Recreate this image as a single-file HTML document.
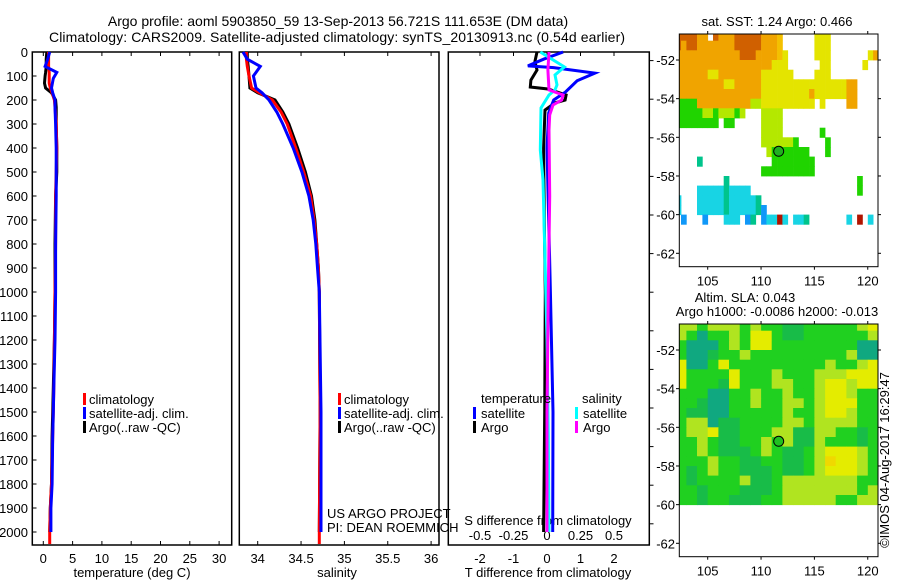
<!DOCTYPE html>
<html><head><meta charset="utf-8"><style>
html,body{margin:0;padding:0;background:#fff;}
svg{display:block;font-family:"Liberation Sans",sans-serif;}
</style></head><body>
<svg id="fig" width="900" height="580" viewBox="0 0 900 580" xmlns="http://www.w3.org/2000/svg">
<defs>
<clipPath id="clipM1"><rect x="679.3" y="34" width="198.4" height="232.7"/></clipPath>
<clipPath id="clipM2"><rect x="679.3" y="324" width="199" height="232.7"/></clipPath>
</defs>
<text x="338" y="26" font-size="14" text-anchor="middle">Argo profile: aoml 5903850_59 13-Sep-2013 56.721S 111.653E (DM data)</text>
<text x="337" y="42" font-size="14" text-anchor="middle" textLength="576">Climatology: CARS2009. Satellite-adjusted climatology: synTS_20130913.nc (0.54d earlier)</text>
<g id="p1"></g>
<g id="p2"></g>
<g id="p3"></g>
<g id="m1"></g>
<g id="m2"></g>
<text transform="translate(889,460) rotate(-90)" font-size="13" text-anchor="middle">©IMOS 04-Aug-2017 16:29:47</text>
</svg>
<script>
// ---- panel 1: temperature ----
const tDepthArgo = [0,30,60,85,100,130,150,170,200,230,300,400,500,600,800,1000,1200,1400,1500,1600,1800,1900,2000];
const tArgo = [0.6,0.5,0.5,0.4,0.3,0.2,0.4,1.4,2.1,2.2,2.2,2.3,2.3,2.1,2.0,2.0,1.9,1.7,1.6,1.5,1.4,1.2,1.1];
const tDepthClim = [0,30,60,85,100,130,150,170,200,230,300,400,500,600,800,1000,1200,1400,1500,1600,1800,1900,2000,2050];
const tClim = [0.9,0.9,0.9,1.0,1.0,1.0,1.2,1.5,1.9,2.0,2.2,2.3,2.2,2.1,2.1,2.0,1.9,1.8,1.7,1.6,1.4,1.2,1.1,1.1];
const tDepthSat = [0,30,60,85,110,150,170,200,230,300,400,500,600,800,1000,1200,1400,1500,1600,1800,1900,2000];
const tSat = [1.1,0.75,0.3,2.3,1.7,1.4,1.6,2.0,2.0,2.1,2.2,2.2,2.2,2.1,2.1,2.0,1.8,1.7,1.6,1.5,1.3,1.3];
const tTicks = [0,5,10,15,20,25,30];
const depthTicks = [0,100,200,300,400,500,600,700,800,900,1000,1100,1200,1300,1400,1500,1600,1700,1800,1900,2000];
// ---- panel 2: salinity ----
const sDepth = [0,30,60,100,150,170,200,250,300,400,500,600,700,800,900,1000,1500,2000];
const sArgo = [33.88,33.88,33.89,33.90,33.91,34.0,34.2,34.29,34.36,34.46,34.55,34.62,34.66,34.68,34.70,34.71,34.72,34.71];
const sDepthClim = [0,30,60,100,150,170,200,250,300,400,500,600,700,800,900,1000,1500,2000,2050];
const sClim = [33.87,33.87,33.88,33.90,33.93,34.02,34.17,34.27,34.34,34.44,34.53,34.61,34.65,34.68,34.70,34.71,34.72,34.71,34.71];
const sSat = [33.83,33.88,34.03,33.95,33.98,34.05,34.13,34.22,34.29,34.41,34.51,34.59,34.64,34.67,34.69,34.71,34.73,34.73];
const sTicks = [34,34.5,35,35.5,36];
const sTickLabels = ["34","34.5","35","35.5","36"];
// ---- panel 3: differences ----
const dTSatDepth = [0,30,58,65,88,120,167,200,254,400,700,1000,1500,2000];
const dTSat = [0.48,-0.1,-0.57,0.2,1.43,0.9,0.55,0.2,0.05,0.0,0.05,0.1,0.18,0.17];
const dTArgoDepth = [0,40,75,117,146,154,179,200,212,242,400,700,1000,1500,2000];
const dTArgo = [-0.3,-0.36,-0.3,-0.48,-0.5,0.03,0.57,0.54,0.24,-0.06,-0.1,-0.08,-0.05,-0.07,-0.1];
const dSSatDepth = [0,33,62,96,137,158,179,233,408,533,867,1200,1600,2000];
const dSSat = [-0.05,0.045,0.13,0.06,0.075,0.06,0.015,-0.045,-0.05,-0.03,-0.015,0.0,0.01,0.015];
const dSArgoDepth = [0,75,158,179,200,221,262,325,600,1000,1500,2000];
const dSArgo = [0.015,0.007,0.015,0.12,0.11,0.045,0.02,0.015,0.02,0.01,0.0,0.0];
const dTTicks = [-2,-1,0,1,2];
const dSTicks = [-0.5,-0.25,0,0.25,0.5];
// ---- maps ----
const lonTicks = [105,110,115,120];
const latTicks = [-52,-54,-56,-58,-60,-62];
const sstLon0 = 102, sstDLon = 0.5, sstLat0 = -50.5, sstDLat = 0.5;
const sstGrid = [
"DDDDOO.DOOODDDDDOOOo......YYY.........",
"DODDOOOOOOODDDDDOOOo......YYY.........",
"OOOOOOOOOOOODDDOOOOoY.....YYY.......YO",
"OOOOOOOOOOOOOOOOOOYYY......YY......Y..",
"OOOOOOYYOOOOOOOOYYYYYY....YYY.........",
"OOOOOOOOOYYOOOOOYYYYYYYYYYYYYYYYOO....",
"OOOOOOOOOOOOOOOOYYYYYYYYYOYYYYYYOO....",
"GGGGOOOOOOOOOOLLYYYYYYYYYY.Y....OO....",
"GGGGGLLGLLLGL...LLLL..................",
"GGGGGGGG.GG.....LLLL..................",
"................LLLL.......G..........",
"................LLLLLLG.....G.........",
".................LGGGGGGG...G.........",
"....T.............GGGGGGGG............",
"................GGGGGGGGGG............",
".........T........................G...",
"....CCCCCTCCCC....................G...",
"C...CCCCCTCCCCCT......................",
"C...CCCCCTCCCCCTB.....................",
".B...B...CCC.BT.BCCRC.CCT.......C.R.C."];
const slaLon0 = 102, slaDLon = 1, slaLat0 = -50.5, slaDLat = 0.5;
const slaGrid = [
"llglllglggGGgggggly","lgtgglgyygGGggggggl","gtttglgyyggggggggtt","gttGgglgggggggggltt",
"yttgyggggggggglggly","yggggyggglggglllyyy","ygggGygggllgglyylyy","gggttgglgglgglyylgg",
"ggGttgglggllglyyygg","gGGttggggglgglyylgg","glltGGggggllgllllgg","gllyGGgggllGGllggGg",
"gglgGGgglglGGlgggGg","gglgGGGglgGGglyyylg","ggglggGGggGGgloyylg","gGglggGGGgGGglyyylg",
"gGgggglGGglllllllgg","ggGgggGGGglllllllgl","ggGggGGGgglllllggll"];
const argoLon = 111.653, argoLat = -56.721;

const NS="http://www.w3.org/2000/svg";
function mk(parent, tag, attrs, name, text){
  const e=document.createElementNS(NS,tag);
  for(const k in attrs) e.setAttribute(k,attrs[k]);
  
  
  if(text!==undefined) e.textContent=text;
  parent.appendChild(e); return e;
}
const yD = d => 52 + 0.24*d;
const xT = t => 43.3 + 5.86*t;
const xS = s => 257.7 + 86.7*(s-34);
const xDT = v => 547 + 33.5*v;
const xDS = v => 547 + 134*v;
function line(g, xs, ds, fx, color, name){
  const pts = xs.map((v,i)=>fx(v).toFixed(1)+","+yD(ds[i]).toFixed(1)).join(" ");
  mk(g,'polyline',{points:pts,fill:'none',stroke:color,'stroke-width':3,'stroke-linejoin':'miter'},name);
}
function frame(g,x0,x1,name){
  mk(g,'rect',{x:x0,y:52,width:x1-x0,height:493,fill:'none',stroke:'#000','stroke-width':1.5},name);
}
// panel 1
const p1=document.getElementById('p1');
frame(p1,32.3,231.7,'temperature-frame');
depthTicks.forEach(d=>{
  mk(p1,'line',{x1:32.3,x2:36.5,y1:yD(d),y2:yD(d),stroke:'#000'},'depth-tick');
  mk(p1,'text',{x:28,y:yD(d)+5,'font-size':13,'text-anchor':'end'},'depth-tick-label',String(d));
});
tTicks.forEach(t=>{
  mk(p1,'line',{x1:xT(t),x2:xT(t),y1:545,y2:541,stroke:'#000'},'temperature-tick');
  mk(p1,'line',{x1:xT(t),x2:xT(t),y1:52,y2:56,stroke:'#000'},'temperature-top-tick');
  mk(p1,'text',{x:xT(t),y:563,'font-size':13,'text-anchor':'middle'},'temperature-tick-label',String(t));
});
mk(p1,'text',{x:132,y:577,'font-size':13,'text-anchor':'middle'},'x-axis-title-temperature','temperature (deg C)');
line(p1,tArgo,tDepthArgo,xT,'#000','argo-temperature-line');
line(p1,tClim,tDepthClim,xT,'#f00','climatology-temperature-line');
line(p1,tSat,tDepthSat,xT,'#00f','satellite-temperature-line');
function legend(g,x,items){
  items.forEach((it,i)=>{
    const y=399+14*i;
    mk(g,'rect',{x:x,y:y-6,width:3,height:12,fill:it[1]},'legend-swatch');
    mk(g,'text',{x:x+6,y:y+5,'font-size':13},'legend-entry',it[0]);
  });
}
legend(p1,83,[["climatology","#f00"],["satellite-adj. clim.","#00f"],["Argo(..raw -QC)","#000"]]);
// panel 2
const p2=document.getElementById('p2');
frame(p2,239.3,439,'salinity-frame');
sTicks.forEach((s,i)=>{
  mk(p2,'line',{x1:xS(s),x2:xS(s),y1:545,y2:541,stroke:'#000'},'salinity-tick');
  mk(p2,'line',{x1:xS(s),x2:xS(s),y1:52,y2:56,stroke:'#000'},'salinity-top-tick');
  mk(p2,'text',{x:xS(s),y:563,'font-size':13,'text-anchor':'middle'},'salinity-tick-label',sTickLabels[i]);
});
mk(p2,'text',{x:337,y:577,'font-size':13,'text-anchor':'middle'},'x-axis-title-salinity','salinity');
line(p2,sArgo,sDepth,xS,'#000','argo-salinity-line');
line(p2,sClim,sDepthClim,xS,'#f00','climatology-salinity-line');
line(p2,sSat,sDepth,xS,'#00f','satellite-salinity-line');
legend(p2,338,[["climatology","#f00"],["satellite-adj. clim.","#00f"],["Argo(..raw -QC)","#000"]]);
mk(p2,'text',{x:327,y:518,'font-size':13},'project-label','US ARGO PROJECT');
mk(p2,'text',{x:327,y:532,'font-size':13},'pi-label','PI: DEAN ROEMMICH');
// panel 3
const p3=document.getElementById('p3');
frame(p3,448.3,649.3,'difference-frame');
dTTicks.forEach(t=>{
  mk(p3,'line',{x1:xDT(t),x2:xDT(t),y1:52,y2:56,stroke:'#000'},'t-diff-top-tick');
  mk(p3,'text',{x:xDT(t),y:563,'font-size':13,'text-anchor':'middle'},'t-diff-tick-label',String(t));
});
dSTicks.forEach(s=>{
  mk(p3,'text',{x:xDS(s),y:540,'font-size':13,'text-anchor':'middle'},'s-diff-tick-label',String(s));
});
for(let i=0;i<13;i++){
  const y=60.6+38.6*i;
  mk(p3,'line',{x1:649.3,x2:653.5,y1:y,y2:y,stroke:'#000'},'right-tick');
}
mk(p3,'text',{x:548,y:525,'font-size':13,'text-anchor':'middle'},'s-diff-axis-title','S difference from climatology');
mk(p3,'text',{x:548,y:577,'font-size':13,'text-anchor':'middle'},'t-diff-axis-title','T difference from climatology');
line(p3,dTArgo,dTArgoDepth,xDT,'#000','argo-t-diff-line');
line(p3,dTSat,dTSatDepth,xDT,'#00f','satellite-t-diff-line');
line(p3,dSSat,dSSatDepth,xDS,'#0ff','satellite-s-diff-line');
line(p3,dSArgo,dSArgoDepth,xDS,'#f0f','argo-s-diff-line');
mk(p3,'text',{x:481,y:403,'font-size':13},'legend-title-temperature','temperature');
mk(p3,'text',{x:582,y:403,'font-size':13},'legend-title-salinity','salinity');
[["satellite","#00f",473,413],["Argo","#000",473,427],["satellite","#0ff",575,413],["Argo","#f0f",575,427]].forEach(it=>{
  mk(p3,'rect',{x:it[2],y:it[3]-6,width:3,height:12,fill:it[1]},'legend-swatch');
  mk(p3,'text',{x:it[2]+8,y:it[3]+5,'font-size':13},'legend-entry',it[0]);
});
// maps
const lonX = l => 707.7 + 10.67*(l-105);
const lat1 = a => 60 + 19.33*(-52-a);
const lat2 = a => 350 + 19.33*(-52-a);
const sstColors={D:'#d06000',O:'#f0a400',o:'#f4c000',Y:'#e4e400',L:'#b4e800',G:'#20d400',T:'#00c48c',C:'#18d4e4',B:'#1098f8',R:'#b01400'};
const slaColors={g:'#20d020',G:'#18bc48',t:'#10a880',l:'#b0e420',y:'#e4ec00',o:'#f0d800'};
function drawMap(id,clip,grid,colors,lon0,dlon,lat0,dlat,latY,top,bottom,title1,title2){
  const g=document.getElementById(id);
  const cg=mk(g,'g',{'clip-path':'url(#'+clip+')'},'map-cells');
  if(id==='m2') mk(cg,'rect',{x:679.3,y:top,width:199,height:latY(-60)-top,fill:'#20d020'},'map-background');
  grid.forEach((row,i)=>{
    for(let j=0;j<row.length;j++){
      const c=row[j]; if(!colors[c]) continue;
      const x0=lonX(lon0+dlon*j), x1=lonX(lon0+dlon*(j+1));
      const y0=latY(lat0-dlat*i), y1=latY(lat0-dlat*(i+1));
      mk(cg,'rect',{x:x0.toFixed(1),y:y0.toFixed(1),width:(x1-x0+0.4).toFixed(1),height:(y1-y0+0.4).toFixed(1),fill:colors[c]},'heatmap-cell');
    }
  });
  mk(g,'rect',{x:679.3,y:top,width:198.7,height:bottom-top,fill:'none',stroke:'#000','stroke-width':1},'map-frame');
  mk(g,'circle',{cx:lonX(argoLon),cy:latY(argoLat),r:5,fill:id==='m1'?'#20b020':'#20c020',stroke:'#000','stroke-width':1},'argo-location-marker');
  lonTicks.forEach(l=>{
    mk(g,'line',{x1:lonX(l),x2:lonX(l),y1:bottom,y2:bottom+3,stroke:'#000'},'lon-tick');
    mk(g,'line',{x1:lonX(l),x2:lonX(l),y1:top,y2:top-3,stroke:'#000'},'lon-top-tick');
    mk(g,'text',{x:lonX(l),y:bottom+19,'font-size':13,'text-anchor':'middle'},'lon-tick-label',String(l));
  });
  latTicks.forEach(a=>{
    mk(g,'line',{x1:679.3,x2:676,y1:latY(a),y2:latY(a),stroke:'#000'},'lat-tick');
    mk(g,'line',{x1:878,x2:881,y1:latY(a),y2:latY(a),stroke:'#000'},'lat-right-tick');
    mk(g,'text',{x:675,y:latY(a)+5,'font-size':13,'text-anchor':'end'},'lat-tick-label',String(a));
  });
}
drawMap('m1','clipM1',sstGrid,sstColors,sstLon0,sstDLon,sstLat0,sstDLat,lat1,34,266.7);
drawMap('m2','clipM2',slaGrid,slaColors,slaLon0,slaDLon,slaLat0,slaDLat,lat2,324,556.7);
const m1=document.getElementById('m1'), m2=document.getElementById('m2');
mk(m1,'text',{x:777,y:26,'font-size':13,'text-anchor':'middle'},'sst-map-title','sat. SST: 1.24  Argo: 0.466');
mk(m2,'text',{x:745,y:302,'font-size':13,'text-anchor':'middle'},'sla-map-title','Altim. SLA: 0.043');
mk(m2,'text',{x:777,y:316,'font-size':13,'text-anchor':'middle'},'sla-map-subtitle','Argo h1000: -0.0086 h2000: -0.013');
</script>
</body></html>
